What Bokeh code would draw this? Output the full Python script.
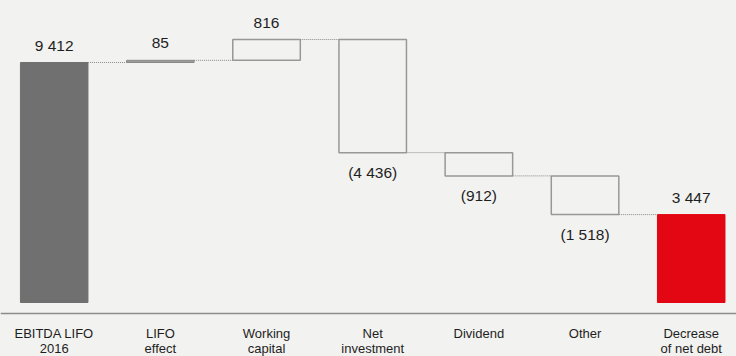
from bokeh.plotting import figure
from bokeh.models import Range1d, Span, ColumnDataSource
from bokeh.core.properties import value
from bokeh.embed import file_html
from bokeh.resources import INLINE

# ---- data ----
cat_line1 = ["EBITDA LIFO", "LIFO", "Working", "Net", "Dividend", "Other", "Decrease"]
cat_line2 = ["2016", "effect", "capital", "investment", "", "", "of net debt"]
values = [9412, 85, 816, -4436, -912, -1518, 3447]
kinds = ["total", "delta", "delta", "delta", "delta", "delta", "total"]

BG = "#f2f2f0"
FONT = "Liberation Sans"

# cumulative levels
bottoms, tops = [], []
level = 0
for v, k in zip(values, kinds):
    if k == "total":
        bottoms.append(0)
        tops.append(v)
        level = v
    else:
        new = level + v
        bottoms.append(min(level, new))
        tops.append(max(level, new))
        level = new

xs = list(range(len(values)))
w = 0.636
fills = ["#707070", "#9b9b9b", None, None, None, None, "#e30613"]
lines = ["#707070", "#8a8a8a", "#989898", "#989898", "#989898", "#989898", "#e30613"]

def fmt(v):
    s = f"{abs(v):,}".replace(",", " ")
    return f"({s})" if v < 0 else s

p = figure(width=736, height=356, output_backend="svg", toolbar_location=None,
           x_range=Range1d(-0.5058, 6.4265), y_range=Range1d(-2118, 11843),
           x_axis_location=None, y_axis_location=None, min_border=0)
p.background_fill_color = BG
p.border_fill_color = BG
p.outline_line_color = None
p.xgrid.visible = False
p.ygrid.visible = False

for i in xs:
    p.quad(left=[i - w / 2], right=[i + w / 2], bottom=[bottoms[i]], top=[tops[i]],
           fill_color=fills[i], line_color=lines[i],
           line_width=1.5 if fills[i] is None else 1)

# connectors
cx0, cx1, cy = [], [], []
level = 0
for i, (v, k) in enumerate(zip(values, kinds)):
    level = v if k == "total" else level + v
    if i < len(values) - 1:
        cx0.append(i + w / 2)
        cx1.append(i + 1 - w / 2)
        cy.append(level)
p.segment(x0=cx0, y0=cy, x1=cx1, y1=cy, line_color="#8a8a8a", line_width=1, line_dash="1 1")

# baseline rule
p.add_layout(Span(location=-431, dimension="width", line_color="#8c8c8c", line_width=1.5))

# value labels
lab_y, lab_off, lab_t = [], [], []
for i, v in enumerate(values):
    if v >= 0:
        lab_y.append(tops[i]); lab_off.append(-17)
    else:
        lab_y.append(bottoms[i]); lab_off.append(20)
    lab_t.append(fmt(v))
src = ColumnDataSource(dict(x=xs, y=lab_y, off=lab_off, t=lab_t))
p.text(x="x", y="y", text="t", y_offset="off", source=src, text_align="center",
       text_baseline="middle", text_font=value(FONT), text_font_size="15.5px", text_color="#1e1e1e")

# category labels
zeros = [0] * len(xs)
p.text(x=xs, y=zeros, text=cat_line1, y_offset=31, text_align="center", text_baseline="middle",
       text_font=value(FONT), text_font_size="13px", text_color="#1e1e1e")
p.text(x=xs, y=zeros, text=cat_line2, y_offset=46, text_align="center", text_baseline="middle",
       text_font=value(FONT), text_font_size="13px", text_color="#1e1e1e")

html = file_html(p, INLINE)
html = html.replace("<head>", "<head><style>body{background:#f2f2f0;}</style>", 1)
open("out.html", "w").write(html)
